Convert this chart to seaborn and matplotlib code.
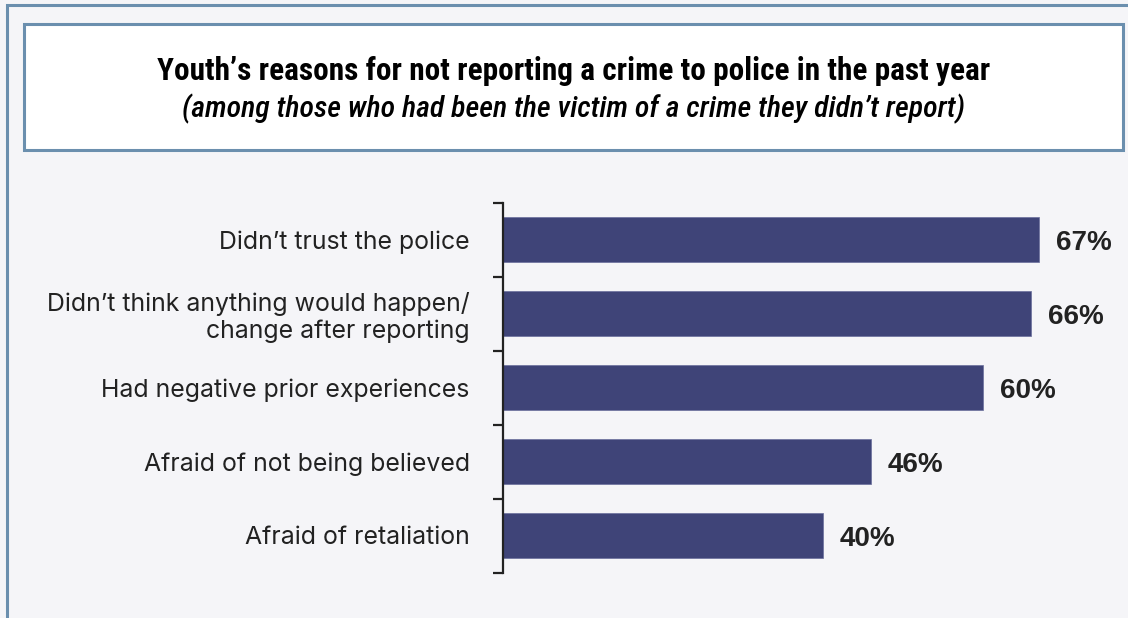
import matplotlib
matplotlib.use("Agg")
import matplotlib.pyplot as plt
from matplotlib.patches import Rectangle
import seaborn as sns
import pandas as pd

reasons = [
    "Didn’t trust the police",
    "Didn’t think anything would happen/\nchange after reporting",
    "Had negative prior experiences",
    "Afraid of not being believed",
    "Afraid of retaliation",
]
shares = [67, 66, 60, 46, 40]
value_labels = ["67%", "66%", "60%", "46%", "40%"]
title = "Youth’s reasons for not reporting a crime to police in the past year"
subtitle = "(among those who had been the victim of a crime they didn’t report)"

df = pd.DataFrame({"reason": reasons, "share": shares})

sns.set_theme(style="white")

bg = "#f5f5f8"
frame = "#6b8fae"
bar_color = "#3f4478"
ink = "#222222"

fig = plt.figure(figsize=(11.28, 6.18), dpi=100, facecolor=bg)
W, H = 1128, 618

ax = fig.add_axes([503 / W, 1 - 572.5 / H, 600 / W, 370 / H])
ax.set_facecolor(bg)
sns.barplot(data=df, x="share", y="reason", color=bar_color, width=0.61,
            saturation=1, ax=ax, edgecolor="#6a6f9c", linewidth=0.5)
ax.set_xlim(0, 75)
ax.set_ylim(4.5, -0.5)
ax.set_xlabel("")
ax.set_ylabel("")
ax.set_xticks([])
for s in ["top", "right", "bottom"]:
    ax.spines[s].set_visible(False)
ax.spines["left"].set_color(ink)
ax.spines["left"].set_linewidth(1.6)

# boundary ticks between categories, labels centred on the bars
ax.set_yticks([-0.5, 0.5, 1.5, 2.5, 3.5, 4.5], minor=True)
ax.tick_params(axis="y", which="minor", left=True, length=7, width=1.6, color=ink)
ax.tick_params(axis="y", which="major", left=False, length=0, pad=24)
for lab in ax.get_yticklabels():
    lab.set_fontfamily("Inter")
    lab.set_fontsize(17.9)
    lab.set_color(ink)
    lab.set_horizontalalignment("right")
    lab.set_multialignment("right")
    lab.set_linespacing(1.18)

for i, (v, t) in enumerate(zip(shares, value_labels)):
    ax.annotate(t, (v, i), xytext=(12, -2.5), textcoords="offset points",
                va="center", ha="left", fontsize=20, fontweight="bold",
                family="Liberation Sans", color=ink)

# outer frame (left and top edges) and title box
fig.patches.append(Rectangle((7 / W, -0.1), 1.2, 1 - 5 / H + 0.1, transform=fig.transFigure,
                             fill=False, edgecolor=frame, linewidth=2.2))
fig.patches.append(Rectangle((24 / W, 1 - 150 / H), (1123 - 24) / W, 126 / H,
                             transform=fig.transFigure, facecolor="white",
                             edgecolor=frame, linewidth=2.2))
fig.text(574 / W, 1 - 71 / H, title, ha="center", va="center", fontsize=22.5,
         fontweight="bold", family="Roboto Condensed", color="black")
fig.text(574 / W, 1 - 108.5 / H, subtitle, ha="center", va="center", fontsize=21.5,
         fontweight="medium", style="italic", family="Roboto Condensed", color="black")

fig.savefig("out.png", dpi=100, facecolor=bg)
